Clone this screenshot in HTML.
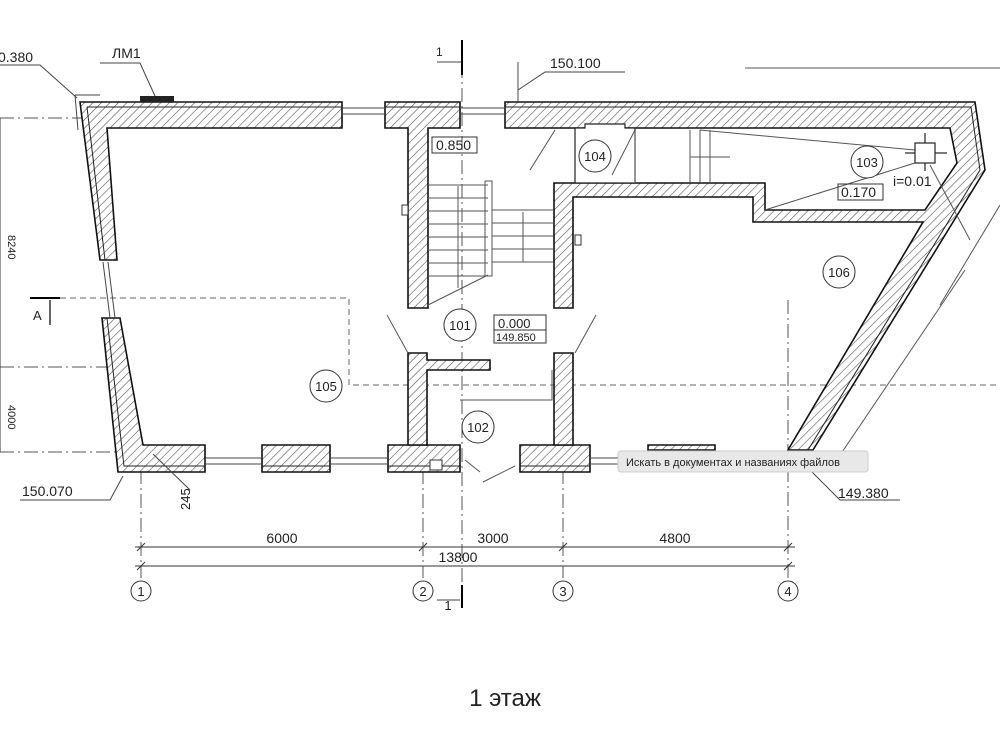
<!DOCTYPE html>
<html><head><meta charset="utf-8">
<style>
html,body{margin:0;padding:0;background:#fff;}
svg{display:block;}
text{font-family:"Liberation Sans",sans-serif;fill:#222;}
</style></head><body>
<svg width="1000" height="750" viewBox="0 0 1000 750" xmlns="http://www.w3.org/2000/svg">
<defs>
<pattern id="h" patternUnits="userSpaceOnUse" width="6" height="6" patternTransform="rotate(45)">
<rect width="6" height="6" fill="#fff"/>
<line x1="0" y1="0" x2="0" y2="6" stroke="#555" stroke-width="1.2"/>
</pattern>
</defs>

<g stroke="#555" stroke-width="1" stroke-dasharray="14,4,2,4" fill="none">
<line x1="462" y1="40" x2="462" y2="610"/>
<line x1="0" y1="118" x2="95" y2="118"/>
<line x1="0" y1="367" x2="110" y2="367"/>
<line x1="0" y1="452" x2="120" y2="452"/>
<line x1="141" y1="470" x2="141" y2="578"/>
<line x1="423" y1="470" x2="423" y2="578"/>
<line x1="563" y1="470" x2="563" y2="578"/>
<line x1="788" y1="300" x2="788" y2="578"/>
</g>
<g stroke="#666" stroke-width="1" stroke-dasharray="6,4" fill="none">
<polyline points="30,298 349,298 349,385 520,385"/>
<line x1="520" y1="385" x2="1000" y2="385"/>
</g>
<line x1="30" y1="298" x2="60" y2="298" stroke="#000" stroke-width="2"/>
<line x1="50" y1="300" x2="50" y2="325" stroke="#000" stroke-width="1.2"/>
<text x="33" y="320" font-size="13">A</text>
<line x1="0" y1="118" x2="0" y2="452" stroke="#333"/>
<text x="3" y="240" font-size="11" transform="rotate(90 8 240)">8240</text>
<text x="3" y="410" font-size="11" transform="rotate(90 8 410)">4000</text>

<g fill="url(#h)" stroke="#111" stroke-width="1.6" stroke-linejoin="miter">
<polygon points="80,102 342,102 342,128 107,128 117,260 100,260"/>
<polygon points="102,318 120,318 143,445 205,445 205,472 118,472"/>
<polygon points="262,445 330,445 330,472 262,472"/>
<polygon points="388,445 460,445 460,472 388,472"/>
<polygon points="520,445 590,445 590,472 520,472"/>
<polygon points="385,102 460,102 460,128 428,128 428,308 408,308 408,128 385,128"/>
<polygon points="408,353 427,353 427,360 490,360 490,370 427,370 427,445 408,445"/>
<polygon points="554,353 573,353 573,445 554,445"/>
<polygon points="505,102 975,102 985,170 813,450 788,450 923,222 753,222 753,197 573,197 573,308 554,308 554,183 765,183 765,210 925,210 957,163 950,128 505,128"/>
<polygon points="648,445 715,445 715,450 648,450"/>
</g>
<!-- insulation layer lines -->
<g stroke="#222" stroke-width="1" fill="none">
<polyline points="87,107 342,107"/>
<polyline points="87,107 105,260"/>
<polyline points="107,318 124,466 205,466"/>
<line x1="262" y1="466" x2="330" y2="466"/>
<line x1="388" y1="466" x2="460" y2="466"/>
<line x1="520" y1="466" x2="590" y2="466"/>
<line x1="385" y1="107" x2="460" y2="107"/>
<polyline points="505,107 971,107 980,170 808,450"/>
</g>
<polygon points="575,128 585,128 585,124 625,124 625,128 635,128 635,183 575,183" fill="#fff" stroke="#222" stroke-width="1.2"/>
<g stroke="#444" stroke-width="1" fill="none">
<line x1="342" y1="108" x2="385" y2="108"/><line x1="342" y1="114" x2="385" y2="114"/>
<line x1="460" y1="108" x2="505" y2="108"/><line x1="460" y1="114" x2="505" y2="114"/>
<line x1="205" y1="458" x2="262" y2="458"/><line x1="205" y1="464" x2="262" y2="464"/>
<line x1="330" y1="458" x2="388" y2="458"/><line x1="330" y1="464" x2="388" y2="464"/>
<line x1="590" y1="458" x2="800" y2="458"/><line x1="590" y1="464" x2="800" y2="464"/>
<line x1="103" y1="262" x2="110" y2="318"/><line x1="108" y1="262" x2="115" y2="318"/>
<line x1="75" y1="95" x2="100" y2="95"/><line x1="75" y1="95" x2="78" y2="130"/>
</g>
<rect x="140" y="96" width="34" height="6" fill="#222"/>
<rect x="430" y="460" width="12" height="10" fill="#fff" stroke="#333"/>
<rect x="402" y="205" width="6" height="10" fill="#fff" stroke="#333"/>
<rect x="575" y="235" width="6" height="10" fill="#fff" stroke="#333"/>

<g stroke="#555" stroke-width="1" fill="none">
<line x1="428" y1="185" x2="488" y2="185"/><line x1="428" y1="198" x2="488" y2="198"/>
<line x1="428" y1="211" x2="488" y2="211"/><line x1="428" y1="224" x2="488" y2="224"/>
<line x1="428" y1="237" x2="488" y2="237"/><line x1="428" y1="250" x2="488" y2="250"/>
<line x1="428" y1="263" x2="488" y2="263"/><line x1="428" y1="276" x2="488" y2="276"/>
<line x1="428" y1="305" x2="488" y2="275"/>
<rect x="485" y="181" width="7" height="95"/>
<line x1="492" y1="210" x2="553" y2="210"/><line x1="492" y1="223" x2="553" y2="223"/>
<line x1="492" y1="236" x2="553" y2="236"/><line x1="492" y1="249" x2="553" y2="249"/>
<line x1="492" y1="262" x2="553" y2="262"/>
<line x1="458" y1="186" x2="458" y2="288"/><line x1="523" y1="212" x2="523" y2="262"/>
<line x1="635" y1="130" x2="635" y2="183"/><line x1="690" y1="130" x2="690" y2="183"/>
<line x1="700" y1="130" x2="700" y2="183"/><line x1="710" y1="130" x2="710" y2="183"/>
<line x1="690" y1="157" x2="730" y2="157"/>
<line x1="530" y1="170" x2="555" y2="130"/><line x1="612" y1="175" x2="635" y2="130"/>
<line x1="387" y1="315" x2="408" y2="353"/><line x1="596" y1="315" x2="575" y2="353"/>
<line x1="483" y1="482" x2="515" y2="466"/><line x1="465" y1="460" x2="480" y2="472"/>
<polyline points="460,400 552,400 552,370"/>
<line x1="700" y1="130" x2="915" y2="150"/><line x1="765" y1="210" x2="915" y2="163"/>
<line x1="930" y1="165" x2="970" y2="240"/>
<line x1="940" y1="305" x2="1000" y2="205"/>
<line x1="830" y1="470" x2="965" y2="270"/>
<line x1="745" y1="68" x2="1000" y2="68"/>
</g>
<rect x="915" y="143" width="20" height="20" fill="#fff" stroke="#222" stroke-width="1.2"/>
<g stroke="#222" stroke-width="1.2"><line x1="905" y1="153" x2="915" y2="153"/><line x1="935" y1="153" x2="947" y2="153"/><line x1="925" y1="133" x2="925" y2="143"/><line x1="925" y1="163" x2="925" y2="171"/></g>

<g stroke="#444" stroke-width="1" fill="none">
<polyline points="0,65 40,65 77,98"/>
<polyline points="100,63 140,63 155,96"/>
<polyline points="20,500 110,500 123,476"/>
<polyline points="518,62 518,103"/>
<polyline points="518,90 545,72 625,72"/>
<polyline points="810,470 840,500 900,500"/>
<line x1="153" y1="454" x2="190" y2="490"/>
<line x1="437" y1="62" x2="462" y2="62"/>
<line x1="462" y1="40" x2="462" y2="75" stroke="#000" stroke-width="2"/>
<line x1="437" y1="600" x2="460" y2="600"/>
<line x1="462" y1="585" x2="462" y2="608" stroke="#000" stroke-width="2"/>
</g>

<g font-size="14">
<text x="-2" y="62">0.380</text>
<text x="112" y="58">ЛМ1</text>
<text x="436" y="56" font-size="12">1</text>
<text x="550" y="68">150.100</text>
<text x="22" y="496">150.070</text>
<text x="838" y="498">149.380</text>
<text x="190" y="510" font-size="13" transform="rotate(-90 190 510)">245</text>
</g>
<rect x="432" y="137" width="45" height="16" fill="none" stroke="#333"/>
<text x="436" y="150" font-size="14">0.850</text>
<rect x="838" y="184" width="45" height="16" fill="none" stroke="#333"/>
<text x="841" y="197" font-size="14">0.170</text>
<text x="893" y="186" font-size="14">i=0.01</text>
<rect x="494" y="315" width="52" height="28" fill="none" stroke="#333"/>
<text x="498" y="328" font-size="13">0.000</text>
<line x1="494" y1="330" x2="546" y2="330" stroke="#333"/>
<text x="496" y="341" font-size="11">149.850</text>

<g fill="#fff" stroke="#333" stroke-width="1">
<circle cx="595" cy="156" r="16"/><circle cx="867" cy="162" r="16"/>
<circle cx="839" cy="272" r="16"/><circle cx="460" cy="325" r="16"/>
<circle cx="326" cy="386" r="16"/><circle cx="478" cy="427" r="16"/>
<circle cx="141" cy="591" r="10"/><circle cx="423" cy="591" r="10"/>
<circle cx="563" cy="591" r="10"/><circle cx="788" cy="591" r="10"/>
</g>
<g font-size="13" text-anchor="middle">
<text x="595" y="161">104</text><text x="867" y="167">103</text>
<text x="839" y="277">106</text><text x="460" y="330">101</text>
<text x="326" y="391">105</text><text x="478" y="432">102</text>
<text x="141" y="596">1</text><text x="423" y="596">2</text>
<text x="563" y="596">3</text><text x="788" y="596">4</text>
<text x="448" y="610">1</text>
</g>

<g stroke="#333" stroke-width="1">
<line x1="135" y1="547" x2="795" y2="547"/>
<line x1="135" y1="566" x2="795" y2="566"/>
<line x1="137" y1="551" x2="145" y2="543"/><line x1="419" y1="551" x2="427" y2="543"/>
<line x1="559" y1="551" x2="567" y2="543"/><line x1="784" y1="551" x2="792" y2="543"/>
<line x1="137" y1="570" x2="145" y2="562"/><line x1="784" y1="570" x2="792" y2="562"/>
</g>
<g font-size="14" text-anchor="middle">
<text x="282" y="543">6000</text><text x="493" y="543">3000</text>
<text x="675" y="543">4800</text><text x="458" y="562">13800</text>
</g>

<rect x="618" y="451" width="250" height="21" rx="3" fill="#e8e8e8" stroke="#ccc"/>
<text x="626" y="466" font-size="11" fill="#333">Искать в документах и названиях файлов</text>

<text x="505" y="706" font-size="24" text-anchor="middle" fill="#111">1 этаж</text>
</svg>
</body></html>
